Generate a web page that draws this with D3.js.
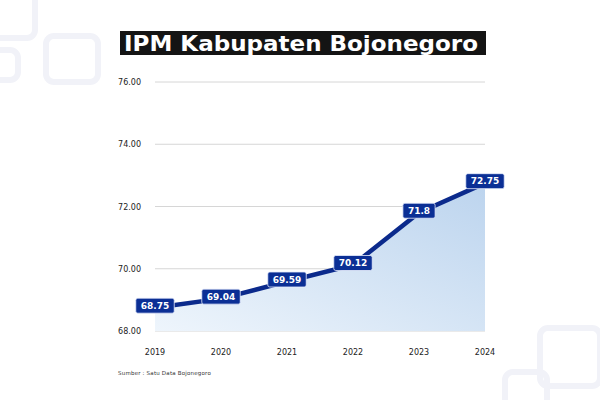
<!DOCTYPE html>
<html>
<head>
<meta charset="utf-8">
<script src="https://cdn.jsdelivr.net/npm/d3@7"></script>
<style>
  body { margin: 0; background: #fff; }
  svg { display: block; }
  .tick-label { font-family: "DejaVu Sans", sans-serif; font-size: 8px; fill: #222; }
  .value-label { font-family: "DejaVu Sans", sans-serif; font-size: 9px; font-weight: 700; fill: #fff; }
</style>
</head>
<body>
<div id="chart"></div>
<script>
// data
var years = ["2019", "2020", "2021", "2022", "2023", "2024"];
var ipmValues = [68.75, 69.04, 69.59, 70.12, 71.8, 72.75];
var valueLabels = ["68.75", "69.04", "69.59", "70.12", "71.8", "72.75"];
var yTicks = [68, 70, 72, 74, 76];

var width = 600, height = 400;
var margin = {top: 82, right: 115, bottom: 69, left: 155},
    w = width - margin.left - margin.right,
    h = height - margin.top - margin.bottom;

var svg = d3.select("#chart").append("svg")
    .attr("width", width)
    .attr("height", height);

// faint background decorations
var deco = svg.append("g")
    .attr("fill", "none")
    .attr("stroke", "#f1f2f8")
    .attr("stroke-width", 6);
deco.append("rect").attr("x", -20).attr("y", -10).attr("width", 55).attr("height", 48).attr("rx", 8);
deco.append("rect").attr("x", 46).attr("y", 36).attr("width", 52).attr("height", 46).attr("rx", 8);
deco.append("rect").attr("x", -20).attr("y", 50).attr("width", 38).attr("height", 30).attr("rx", 8);
deco.append("rect").attr("x", 540).attr("y", 328).attr("width", 60).attr("height", 58).attr("rx", 8);
deco.append("rect").attr("x", 505).attr("y", 372).attr("width", 42).attr("height", 40).attr("rx", 8);

var defs = svg.append("defs");
var grad = defs.append("linearGradient")
    .attr("id", "areaFill")
    .attr("x1", 1).attr("y1", 0).attr("x2", 0).attr("y2", 1);
grad.append("stop").attr("offset", "0%").attr("stop-color", "#bcd4ee");
grad.append("stop").attr("offset", "100%").attr("stop-color", "#eef5fc");

// title
var titleG = svg.append("g");
titleG.append("rect")
    .attr("x", 120).attr("y", 31)
    .attr("width", 366).attr("height", 24)
    .attr("fill", "#141414");
titleG.append("text")
    .attr("x", 124).attr("y", 51)
    .attr("fill", "#fff")
    .attr("textLength", 354)
    .attr("lengthAdjust", "spacingAndGlyphs")
    .style("font-family", "'DejaVu Sans', sans-serif")
    .style("font-size", "21px")
    .style("font-weight", "700")
    .text("IPM Kabupaten Bojonegoro");

var g = svg.append("g")
    .attr("transform", "translate(" + margin.left + "," + margin.top + ")");

var x = d3.scalePoint().domain(years).range([0, w]);
var y = d3.scaleLinear().domain([68, 76]).range([h, 0]);

// gridlines
g.append("g")
    .selectAll("line")
    .data(yTicks)
    .enter().append("line")
    .attr("x1", 0).attr("x2", w)
    .attr("y1", function(d) { return y(d); })
    .attr("y2", function(d) { return y(d); })
    .attr("stroke", "#d6d6d6")
    .attr("stroke-width", 1);

// y labels
g.append("g")
    .selectAll("text")
    .data(yTicks)
    .enter().append("text")
    .attr("class", "tick-label")
    .attr("x", -14)
    .attr("y", function(d) { return y(d) + 3; })
    .attr("text-anchor", "end")
    .text(function(d) { return d.toFixed(2); });

// x labels
g.append("g")
    .selectAll("text")
    .data(years)
    .enter().append("text")
    .attr("class", "tick-label")
    .attr("x", function(d) { return x(d); })
    .attr("y", h + 24)
    .attr("text-anchor", "middle")
    .text(function(d) { return d; });

var pts = years.map(function(d, i) { return {year: d, v: ipmValues[i], label: valueLabels[i]}; });

// area
var area = d3.area()
    .x(function(d) { return x(d.year); })
    .y0(h)
    .y1(function(d) { return y(d.v); });
g.append("path")
    .datum(pts)
    .attr("d", area)
    .attr("fill", "url(#areaFill)");

// line
var line = d3.line()
    .x(function(d) { return x(d.year); })
    .y(function(d) { return y(d.v); });
g.append("path")
    .datum(pts)
    .attr("d", line)
    .attr("fill", "none")
    .attr("stroke", "#0b2a8c")
    .attr("stroke-width", 4.5);

// value labels
var lab = g.append("g")
    .selectAll("g")
    .data(pts)
    .enter().append("g")
    .attr("transform", function(d) { return "translate(" + x(d.year) + "," + (y(d.v) - 2) + ")"; });

lab.append("text")
    .attr("class", "value-label")
    .attr("text-anchor", "middle")
    .attr("y", 3.3)
    .text(function(d) { return d.label; })
    .each(function(d) { d.tw = this.getComputedTextLength(); });

lab.insert("rect", "text")
    .attr("x", function(d) { return -d.tw / 2 - 5; })
    .attr("y", -7.5)
    .attr("width", function(d) { return d.tw + 10; })
    .attr("height", 15)
    .attr("rx", 2)
    .attr("fill", "#0b2f95")
    .attr("stroke", "#e8eefc")
    .attr("stroke-width", 0.8);

// source
svg.append("text")
    .attr("x", 118)
    .attr("y", 375)
    .style("font-family", "'DejaVu Sans', sans-serif")
    .style("font-size", "5.5px")
    .attr("fill", "#333")
    .attr("letter-spacing", "0.2")
    .text("Sumber : Satu Data Bojonegoro");
</script>
</body>
</html>
